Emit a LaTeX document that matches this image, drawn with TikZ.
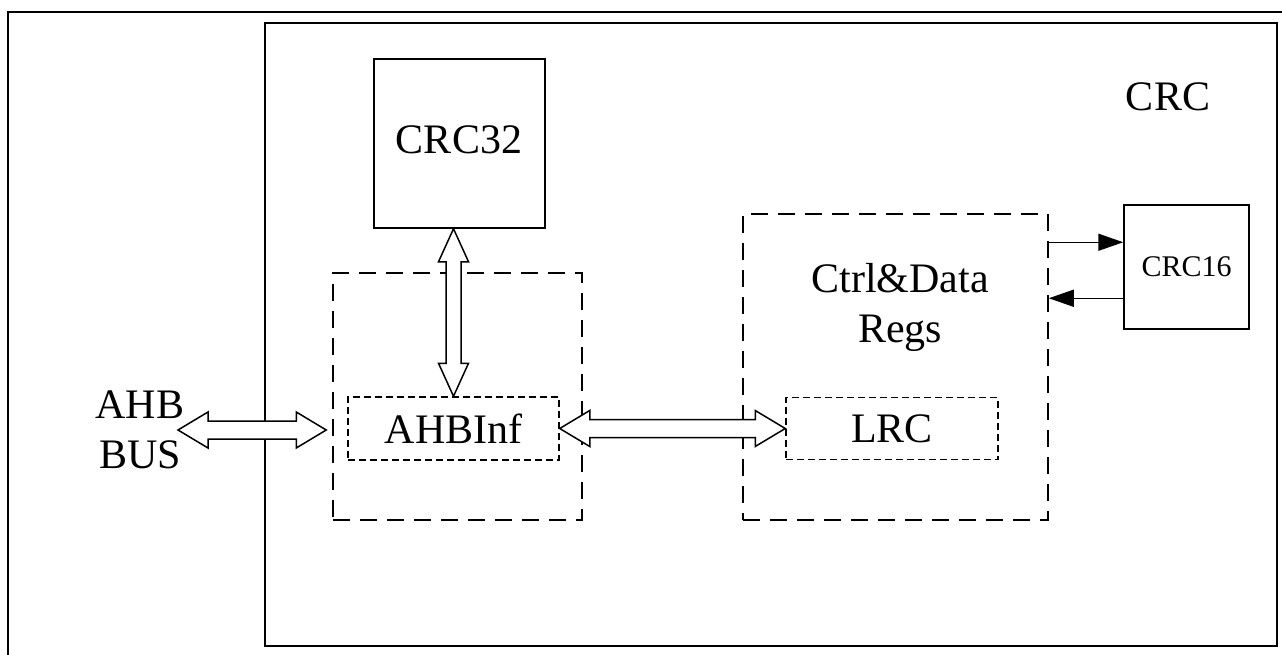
\documentclass[tikz,border=0pt]{standalone}
\usepackage{fontspec}
\setmainfont{Liberation Serif}
\usetikzlibrary{arrows.meta,calc}
\newcommand{\hollowh}[2]{%
  \draw[hollow] let \p1=(#1), \p2=(#2) in
    (\x1,\y1) -- (\x1+30pt,\y1+18pt) -- (\x1+30pt,\y1+9pt) -- (\x2-30pt,\y1+9pt)
    -- (\x2-30pt,\y1+18pt) -- (\x2,\y1) -- (\x2-30pt,\y1-18pt) -- (\x2-30pt,\y1-9pt)
    -- (\x1+30pt,\y1-9pt) -- (\x1+30pt,\y1-18pt) -- cycle;}
\newcommand{\hollowv}[2]{%
  \draw[hollow] let \p1=(#1), \p2=(#2) in
    (\x1,\y1) -- (\x1+15pt,\y1-33pt) -- (\x1+7.5pt,\y1-33pt) -- (\x1+7.5pt,\y2+33pt)
    -- (\x1+15pt,\y2+33pt) -- (\x1,\y2) -- (\x1-15pt,\y2+33pt) -- (\x1-7.5pt,\y2+33pt)
    -- (\x1-7.5pt,\y1-33pt) -- (\x1-15pt,\y1-33pt) -- cycle;}
\begin{document}
\begin{tikzpicture}[x=1pt,y=-1pt,
  solidbox/.style={draw, line width=1.5pt, inner sep=0pt},
  longdash/.style={draw, line width=1.5pt, dash pattern=on 17pt off 10pt, inner sep=0pt},
  shortdash/.style={draw, line width=1.5pt, dash pattern=on 7pt off 4pt, inner sep=0pt},
  big/.style={font=\fontsize{42}{50}\selectfont, align=center, inner sep=0pt},
  small/.style={font=\fontsize{30}{36}\selectfont, inner sep=0pt},
  hollow/.style={draw, fill=white, line width=1.5pt, line join=miter},
  sig/.style={draw, line width=1.5pt, -{Triangle[length=25pt,width=17pt]}}]
\useasboundingbox (0,0) rectangle (1282,655);
\clip (0,0) rectangle (1282,655);
% frames
\draw[line width=2.4pt] (8,12) rectangle (1300,680);
\draw[line width=2pt] (265,23) rectangle (1277,646);
\node[big] (crclabel) at (1168,97) {CRC};
% blocks
\node[solidbox, minimum width=171pt, minimum height=169pt] (crc32) at (459.5,143.5) {};
\node[big] (crc32text) at (459,140) {CRC32};
\node[longdash, minimum width=249pt, minimum height=247pt] (ahbbox) at (457.5,396.5) {};
\node[shortdash, big, minimum width=211pt, minimum height=63pt] (ahbinf) at (453.5,428.5) {AHBInf};
\node[longdash, minimum width=305pt, minimum height=306pt] (ctrl) at (895.5,367) {};
\node[big] (ctrltext) at (900,307) {Ctrl\&Data\\Regs};
\node[shortdash, big, minimum width=212pt, minimum height=62pt] (lrc) at (892,428.5) {LRC};
\node[solidbox, small, minimum width=125pt, minimum height=124pt] (crc16) at (1186.5,267) {CRC16};
\node[big] (bus) at (140,430) {AHB\\BUS};
% connectors
\coordinate (busend) at ([xshift=38pt]bus.center);
\coordinate (busin) at ([xshift=-6pt]ahbbox.west |- ahbinf.west);
\hollowh{busend}{busin}
\hollowh{ahbinf.east}{lrc.west}
\hollowv{ahbinf.north |- crc32.south}{ahbinf.north}
\coordinate (c16a) at ([yshift=-38pt]crc16.north west);
\coordinate (c16b) at ([yshift=-94pt]crc16.north west);
\draw[sig] (c16a -| ctrl.east) -- (c16a);
\draw[sig] (c16b) -- (c16b -| ctrl.east);
\end{tikzpicture}
\end{document}
